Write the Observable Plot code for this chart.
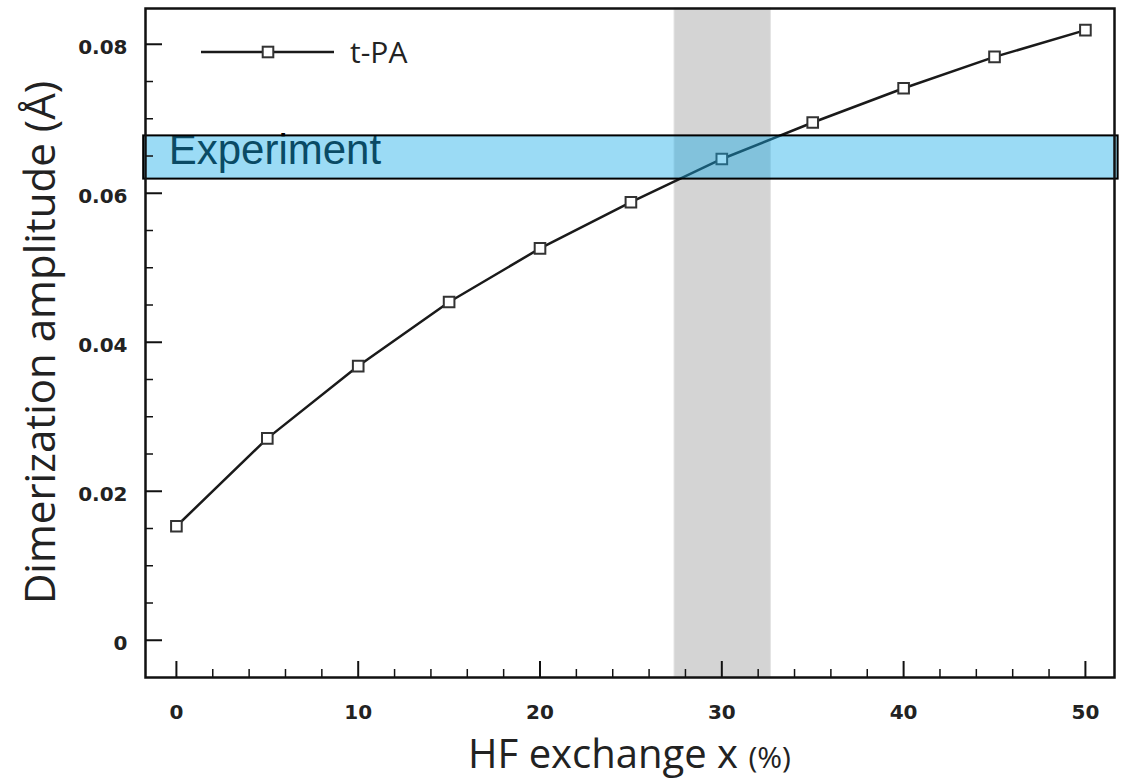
<!DOCTYPE html>
<html>
<head>
<meta charset="utf-8">
<script src="https://cdn.jsdelivr.net/npm/d3@7"></script>
<script src="https://cdn.jsdelivr.net/npm/@observablehq/plot@0.6"></script>
<style>
  html, body { margin: 0; padding: 0; background: white; }
  #chart { width: 1121px; height: 779px; }
</style>
</head>
<body>
<div id="chart"></div>
<script>
// ---- data ----
const hfExchange = [0, 5, 10, 15, 20, 25, 30, 35, 40, 45, 50];
const dimerization = [0.0153, 0.0271, 0.0368, 0.0454, 0.0526, 0.0588, 0.0646, 0.0695, 0.0741, 0.0783, 0.0819];
const seriesName = "t-PA";
const bestRange = [{x1: 27.4, x2: 32.7}];
const experiment = [{label: "Experiment", x1: -1.8, x2: 51.8, y1: 0.0619, y2: 0.0677}];
const xMajorTicks = [0, 10, 20, 30, 40, 50];
const xMinorTicks = d3.range(0, 51, 2).filter(v => v % 10 !== 0);
const yMajorTicks = [0, 0.02, 0.04, 0.06, 0.08];
const yMinorTicks = [0.005, 0.01, 0.015, 0.025, 0.03, 0.035, 0.045, 0.05, 0.055, 0.065, 0.07, 0.075];
const xTitle = "HF exchange x ";
const xTitleUnit = "(%)";
const yTitle = "Dimerization amplitude (Å)";

const table = hfExchange.map((x, i) => ({x, y: dimerization[i]}));

const W = 1121, H = 779, mL = 145, mR = 7, mT = 8, mB = 102;
const innerW = W - mL - mR, innerH = H - mT - mB;

const svg = Plot.plot({
  width: W, height: H,
  marginLeft: mL, marginRight: mR, marginTop: mT, marginBottom: mB,
  x: {domain: [-1.7, 51.6]},
  y: {domain: [-0.005, 0.0848]},
  style: {fontFamily: "DejaVu Sans", background: "white", color: "#222"},
  marks: [
    Plot.rect(bestRange, {x1: "x1", x2: "x2", fill: "#d4d4d4", stroke: "#e2e2e2", strokeWidth: 1}),
    Plot.line(table, {x: "x", y: "y", stroke: "#1a1a1a", strokeWidth: 2.5}),
    Plot.dot(table, {x: "x", y: "y", symbol: "square", r: 6, fill: "white", stroke: "#333", strokeWidth: 2}),
    Plot.text(experiment, {x: "x1", y: d => (d.y1 + d.y2) / 2, text: "label", textAnchor: "start",
      dx: 25, dy: -7, fontSize: 42, fontFamily: "Liberation Sans, Arial, sans-serif", fill: "black"}),
    Plot.rect(experiment, {x1: "x1", x2: "x2", y1: "y1", y2: "y2", fill: "rgb(23,172,232)", fillOpacity: 0.43,
      stroke: "black", strokeWidth: 2}),
    Plot.tickX(xMajorTicks, {x: d => d, insetTop: innerH - 16, stroke: "#111", strokeWidth: 2}),
    Plot.tickX(xMinorTicks, {x: d => d, insetTop: innerH - 8, stroke: "#111", strokeWidth: 1.5}),
    Plot.tickY(yMajorTicks, {y: d => d, insetRight: innerW - 17, stroke: "#111", strokeWidth: 2}),
    Plot.tickY(yMinorTicks, {y: d => d, insetRight: innerW - 8, stroke: "#111", strokeWidth: 1.5}),
    Plot.frame({stroke: "#111", strokeWidth: 2.5}),
    Plot.axisX(xMajorTicks, {tickSize: 0, tickPadding: 27, fontSize: 20, fontWeight: "bold", label: null, tickFormat: d => String(d)}),
    Plot.axisY(yMajorTicks, {tickSize: 0, tickPadding: 18, fontSize: 20, fontWeight: "bold", label: null, dy: 3,
      tickFormat: d => d === 0 ? "0" : d.toFixed(2)})
  ]
});

document.getElementById("chart").appendChild(svg);

const s = d3.select(svg);
// y title
s.append("text")
  .attr("transform", `translate(55,${mT + innerH / 2}) rotate(-90)`)
  .attr("text-anchor", "middle")
  .style("font-family", "'Open Sans', sans-serif")
  .style("font-size", "42px")
  .attr("fill", "#222")
  .text(yTitle);
// x title
const xt = s.append("text")
  .attr("x", mL + innerW / 2).attr("y", 768)
  .attr("text-anchor", "middle")
  .style("font-family", "'Open Sans', sans-serif")
  .attr("fill", "#222");
xt.append("tspan").style("font-size", "40px").text(xTitle);
xt.append("tspan").style("font-size", "30px").text(xTitleUnit);

// legend
const lg = s.append("g");
lg.append("line").attr("x1", 201).attr("x2", 334).attr("y1", 52).attr("y2", 52)
  .attr("stroke", "#1a1a1a").attr("stroke-width", 2.5);
lg.append("rect").attr("x", 268 - 5.3).attr("y", 52 - 5.3).attr("width", 10.6).attr("height", 10.6)
  .attr("fill", "white").attr("stroke", "#333").attr("stroke-width", 2);
lg.append("text").attr("x", 350).attr("y", 63)
  .attr("text-anchor", "start")
  .style("font-family", "'Open Sans', sans-serif").style("font-size", "30px")
  .attr("fill", "#222").text(seriesName);
</script>
</body>
</html>
